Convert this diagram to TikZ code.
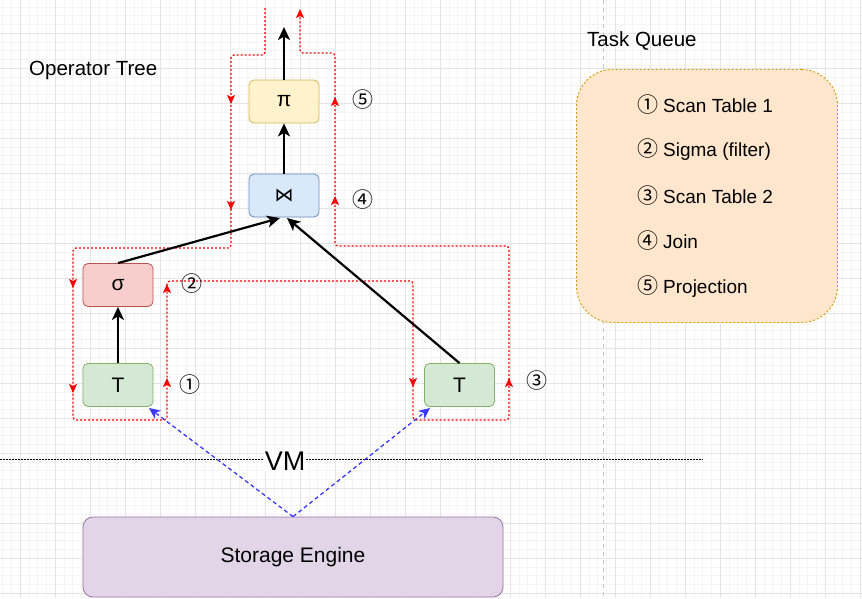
\documentclass[tikz,border=0pt]{standalone}
\usepackage{fontspec}
\setmainfont{Liberation Sans}
\newfontfamily\dv{DejaVu Sans}
\newfontfamily\cjk{Noto Sans CJK SC}
\usetikzlibrary{arrows.meta}
\definecolor{gridmaj}{HTML}{E4E4E4}
\definecolor{gridmin}{HTML}{F4F4F4}
\definecolor{pifill}{HTML}{FFF2CC}\definecolor{pidraw}{HTML}{D6B656}
\definecolor{jfill}{HTML}{DAE8FC}\definecolor{jdraw}{HTML}{6C8EBF}
\definecolor{sfill}{HTML}{F8CECC}\definecolor{sdraw}{HTML}{B85450}
\definecolor{tfill}{HTML}{D5E8D4}\definecolor{tdraw}{HTML}{82B366}
\definecolor{qfill}{HTML}{FFE6CC}\definecolor{qdraw}{HTML}{D79B00}
\definecolor{efill}{HTML}{E1D5E7}\definecolor{edraw}{HTML}{9673A6}
\definecolor{redl}{HTML}{FF0000}
\definecolor{bluel}{HTML}{3838FF}
\newcommand{\cn}[1]{{\cjk\fontsize{21}{24}\selectfont #1}}
\tikzset{
  opbox/.style={draw, rounded corners=5pt, minimum width=70pt, minimum height=43pt, inner sep=0pt, font=\fontsize{21}{24}\selectfont, line width=0.8pt},
  blk/.style={line width=2.2pt, -{Stealth[length=13pt,width=12pt,inset=3.5pt]}},
  redpath/.style={redl, line width=1.2pt, dash pattern=on 2pt off 2pt, rounded corners=3pt},
  redtip/.style={redl, line width=1.2pt, -{Stealth[length=9pt,width=8pt,inset=2pt]}},
  bluepath/.style={bluel, line width=1.3pt, dash pattern=on 4pt off 3pt, -{Stealth[length=11pt,width=10pt,inset=3pt]}},
  circ/.style={inner sep=0pt},
  lbl/.style={font=\fontsize{20.5}{24}\selectfont, inner sep=0pt},
  qitem/.style={anchor=west, inner sep=0pt, font=\fontsize{19}{22}\selectfont}
}
\begin{document}
\begin{tikzpicture}[x=1pt,y=-1pt]
\useasboundingbox (0,0) rectangle (862,598);
\fill[white] (0,0) rectangle (862,598);
% grid
\foreach \k in {0,...,98} \draw[gridmin, line width=0.5pt] ({2.5+8.75*\k},0) -- ({2.5+8.75*\k},598);
\foreach \k in {0,...,67} \draw[gridmin, line width=0.5pt] (0,{6.75+8.75*\k}) -- (862,{6.75+8.75*\k});
\foreach \k in {0,...,24} \draw[gridmaj, line width=0.8pt] ({20+35*\k},0) -- ({20+35*\k},598);
\foreach \k in {0,...,16} \draw[gridmaj, line width=0.8pt] (0,{33+35*\k}) -- (862,{33+35*\k});
% gray dashed separator
\draw[black!22, line width=1pt, dash pattern=on 4pt off 4pt] (603,0) -- (603,598);

% titles
\node[lbl, anchor=west] (optitle) at (29,70) {Operator Tree};
\node[lbl, anchor=west] (tqtitle) at (587,41) {Task Queue};

% task queue box
\node[draw=qdraw, fill=qfill, line width=0.9pt, dash pattern=on 2pt off 2pt, rounded corners=36pt, minimum width=261pt, minimum height=253pt] (queue) at (707,196) {};
\node[qitem] (q1) at (637,105) {\cn{①}\hspace{5pt}Scan Table 1};
\node[qitem] (q2) at (637,150) {\cn{②}\hspace{5pt}Sigma (filter)};
\node[qitem] (q3) at (637,196) {\cn{③}\hspace{5pt}Scan Table 2};
\node[qitem] (q4) at (637,241) {\cn{④}\hspace{5pt}Join};
\node[qitem] (q5) at (637,287) {\cn{⑤}\hspace{5pt}Projection};

% red execution path
\draw[redpath] (265,8) -- (265,55) -- (231,55) -- (231,248) -- (73,248) -- (73,420) -- (167,420) -- (167,281) -- (413,281) -- (413,420) -- (509,420) -- (509,246) -- (335,246) -- (335,53) -- (300,53) -- (300,12);
\draw[redtip] (231,102) -- (231,104);
\draw[redtip] (231,208) -- (231,210);
\draw[redtip] (73,286) -- (73,288);
\draw[redtip] (73,391) -- (73,393);
\draw[redtip] (167,380) -- (167,378);
\draw[redtip] (167,286) -- (167,284);
\draw[redtip] (413,385) -- (413,387);
\draw[redtip] (509,380) -- (509,378);
\draw[redtip] (335,198) -- (335,196);
\draw[redtip] (335,99) -- (335,97);
\draw[redtip] (300,12) -- (300,9);

% operator nodes
\node[opbox, fill=pifill, draw=pidraw] (pi) at (284,101.5) {π};
\node[opbox, fill=jfill, draw=jdraw] (join) at (284,195.5) {{\dv\fontsize{19}{22}\selectfont ⋈}};
\node[opbox, fill=sfill, draw=sdraw] (sig) at (118,285) {σ};
\node[opbox, fill=tfill, draw=tdraw] (t1) at (118,385) {T};
\node[opbox, fill=tfill, draw=tdraw] (t2) at (459.5,385) {T};

% circled step numbers
\node[circ] (n5) at (363,100) {\cn{⑤}};
\node[circ] (n4) at (363,200) {\cn{④}};
\node[circ] (n2) at (192,284) {\cn{②}};
\node[circ] (n1) at (190,385) {\cn{①}};
\node[circ] (n3) at (537,381) {\cn{③}};

% black data-flow arrows
\coordinate (jl) at (280,218);
\coordinate (jr) at (287,218);
\coordinate (topend) at (284,27);
\draw[blk] (t1.north) -- (sig.south);
\draw[blk] (sig.north) -- (jl);
\draw[blk] (t2.north) -- (jr);
\draw[blk] (join.north) -- (pi.south);
\draw[blk] (pi.north) -- (topend);

% VM line
\coordinate (vml) at (0,459);
\coordinate (vmr) at (703,459);
\draw[black, line width=1pt, dash pattern=on 1.5pt off 1.5pt] (vml) -- (vmr);
\node[fill=white, inner sep=1pt, font=\fontsize{27}{30}\selectfont] (vm) at (285,461) {VM};

% storage engine
\node[draw=edraw, fill=efill, line width=0.8pt, rounded corners=10pt, minimum width=420pt, minimum height=80pt, font=\fontsize{21}{24}\selectfont] (se) at (293,557) {Storage Engine};
\coordinate (t1c) at (149,408);
\coordinate (t2c) at (430,408);
\draw[bluepath] (se.north) -- (t1c);
\draw[bluepath] (se.north) -- (t2c);
\end{tikzpicture}
\end{document}
